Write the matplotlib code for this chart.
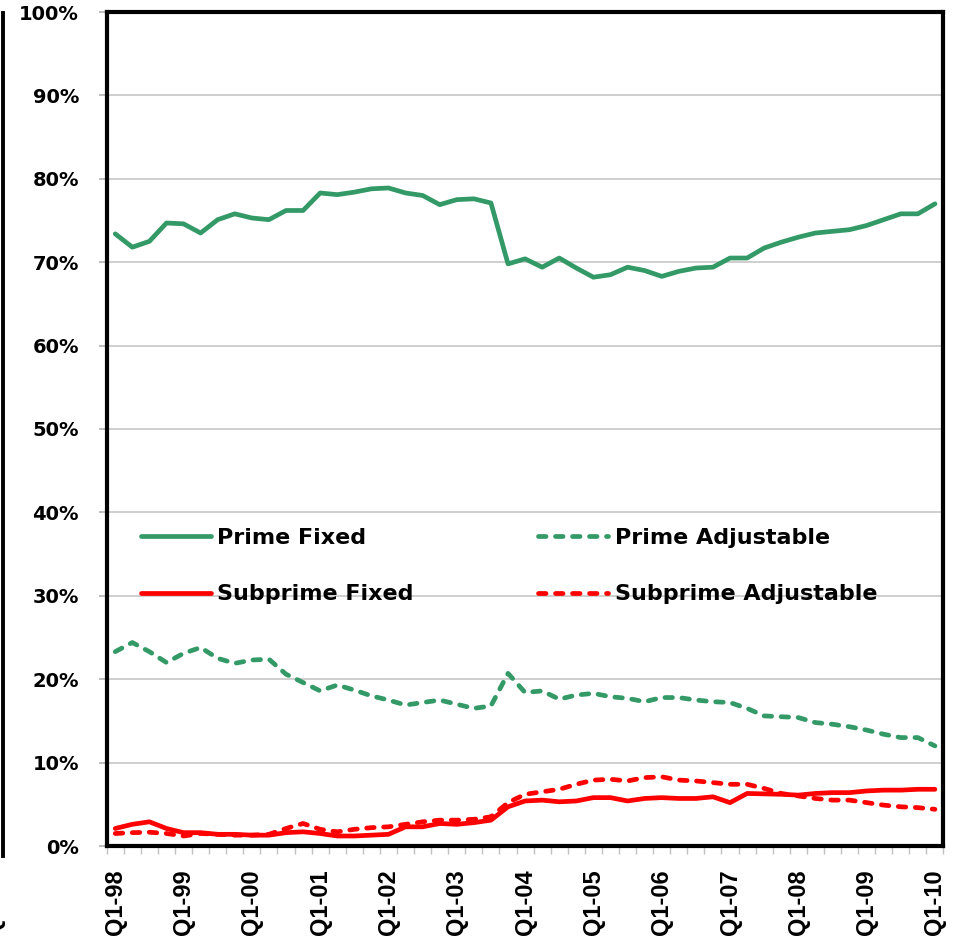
import matplotlib
matplotlib.use("Agg")
import matplotlib.pyplot as plt
from matplotlib.lines import Line2D
import numpy as np

# ---- data -------------------------------------------------------------
years = ["98", "99", "00", "01", "02", "03", "04", "05", "06", "07", "08", "09", "10"]
quarters = [f"Q{q}-{y}" for y in years for q in (1, 2, 3, 4)][:49]  # Q1-98 .. Q1-10

prime_fixed = [73.4, 71.8, 72.5, 74.7, 74.6, 73.5, 75.1, 75.8, 75.3, 75.1,
               76.2, 76.2, 78.3, 78.1, 78.4, 78.8, 78.9, 78.3, 78.0, 76.9,
               77.5, 77.6, 77.1, 69.8, 70.4, 69.4, 70.5, 69.3, 68.2, 68.5,
               69.4, 69.0, 68.3, 68.9, 69.3, 69.4, 70.5, 70.5, 71.7, 72.4,
               73.0, 73.5, 73.7, 73.9, 74.4, 75.1, 75.8, 75.8, 77.0]

prime_adjustable = [23.3, 24.4, 23.3, 22.0, 23.1, 23.8, 22.5, 21.9, 22.3, 22.4,
                    20.6, 19.6, 18.6, 19.3, 18.7, 18.0, 17.5, 16.9, 17.2, 17.5,
                    17.0, 16.5, 16.8, 20.7, 18.4, 18.6, 17.6, 18.1, 18.3, 17.9,
                    17.7, 17.3, 17.8, 17.8, 17.5, 17.3, 17.2, 16.5, 15.6, 15.5,
                    15.4, 14.8, 14.6, 14.3, 13.9, 13.4, 13.0, 13.0, 12.0]

subprime_fixed = [2.1, 2.6, 2.9, 2.1, 1.6, 1.6, 1.4, 1.4, 1.3, 1.3,
                  1.6, 1.7, 1.5, 1.2, 1.2, 1.3, 1.4, 2.3, 2.3, 2.7,
                  2.6, 2.8, 3.1, 4.7, 5.4, 5.5, 5.3, 5.4, 5.8, 5.8,
                  5.4, 5.7, 5.8, 5.7, 5.7, 5.9, 5.2, 6.3, 6.25, 6.2,
                  6.1, 6.3, 6.4, 6.4, 6.6, 6.7, 6.7, 6.8, 6.8]

subprime_adjustable = [1.5, 1.6, 1.65, 1.5, 1.2, 1.5, 1.4, 1.3, 1.3, 1.4,
                       2.1, 2.7, 2.0, 1.7, 2.0, 2.2, 2.3, 2.6, 2.9, 3.1,
                       3.1, 3.2, 3.5, 5.2, 6.2, 6.5, 6.8, 7.4, 7.9, 8.0,
                       7.8, 8.2, 8.3, 7.9, 7.8, 7.6, 7.4, 7.4, 6.9, 6.3,
                       6.0, 5.7, 5.5, 5.5, 5.2, 4.9, 4.7, 4.6, 4.4]

series_names = ["Prime Fixed", "Prime Adjustable", "Subprime Fixed", "Subprime Adjustable"]
y_ticks = [0, 10, 20, 30, 40, 50, 60, 70, 80, 90, 100]

# ---- style ------------------------------------------------------------
GREEN = "#339966"
RED = "#FF0000"
LW = 3.4

fig = plt.figure(figsize=(9.61, 9.47), dpi=100)
ax = fig.add_axes([106.7 / 961, 101 / 947, 836.8 / 961, 834 / 947])

x = np.arange(len(quarters))

dash = (1.6, 2.0)
l1, = ax.plot(x, prime_fixed, color=GREEN, lw=LW, solid_capstyle="round",
              solid_joinstyle="round", label=series_names[0], zorder=3)
l2, = ax.plot(x, prime_adjustable, color=GREEN, lw=LW, dashes=dash,
              dash_capstyle="round", label=series_names[1], zorder=3)
l3, = ax.plot(x, subprime_fixed, color=RED, lw=LW, solid_capstyle="round",
              solid_joinstyle="round", label=series_names[2], zorder=3)
l4, = ax.plot(x, subprime_adjustable, color=RED, lw=LW, dashes=dash,
              dash_capstyle="round", label=series_names[3], zorder=3)

ax.set_xlim(-0.5, len(quarters) - 0.5)
ax.set_ylim(0, 100)

# grid
ax.set_yticks(y_ticks)
ax.set_yticklabels([f"{v}%" for v in y_ticks], fontsize=14, fontweight="bold",
                   family="DejaVu Sans")
ax.yaxis.grid(True, color="#cccccc", lw=1.3, zorder=0)
ax.set_axisbelow(True)
ax.tick_params(axis="y", which="major", length=6, width=1.2, color="#b0b0b0",
               pad=14)

# x ticks: labels every 4 quarters, tick marks on category boundaries
ax.set_xticks(x[::4])
ax.set_xticklabels(quarters[::4], rotation=90, fontsize=17, fontweight="bold",
                   family="Liberation Sans", va="top", ha="center")
ax.set_xticks(np.arange(-0.5, len(quarters), 1.0), minor=True)
ax.tick_params(axis="x", which="major", length=0, pad=16.5)
ax.tick_params(axis="x", which="minor", length=6, width=1.0, color="#c0c0c0")

for s in ax.spines.values():
    s.set_linewidth(3.0)
    s.set_color("black")
    s.set_zorder(5)

# legend as two one-column blocks
common = dict(frameon=False, handlelength=3.15, handletextpad=0.3,
              labelspacing=1.66, borderpad=0, borderaxespad=0,
              prop={"weight": "bold", "size": 16, "family": "DejaVu Sans"})
leg1 = ax.legend(handles=[l1, l3], loc="center left",
                 bbox_to_anchor=((140.7 - 106.7) / 836.8, (846 - 566) / 834),
                 **common)
ax.add_artist(leg1)
leg2 = ax.legend(handles=[l2, l4], loc="center left",
                 bbox_to_anchor=((538 - 106.7) / 836.8, (846 - 566) / 834),
                 **common)

# cropped neighbouring chart at the left edge
fig.add_artist(Line2D([3.2 / 961, 3.2 / 961], [1 - 13 / 947, 1 - 856 / 947],
                      transform=fig.transFigure, color="black", lw=2.8))
fig.text(-6 / 961, 1 - 869 / 947, "Q1-10", rotation=90, ha="center", va="top",
         fontsize=17, fontweight="bold", family="Liberation Sans")

fig.savefig("out.png", dpi=100)
